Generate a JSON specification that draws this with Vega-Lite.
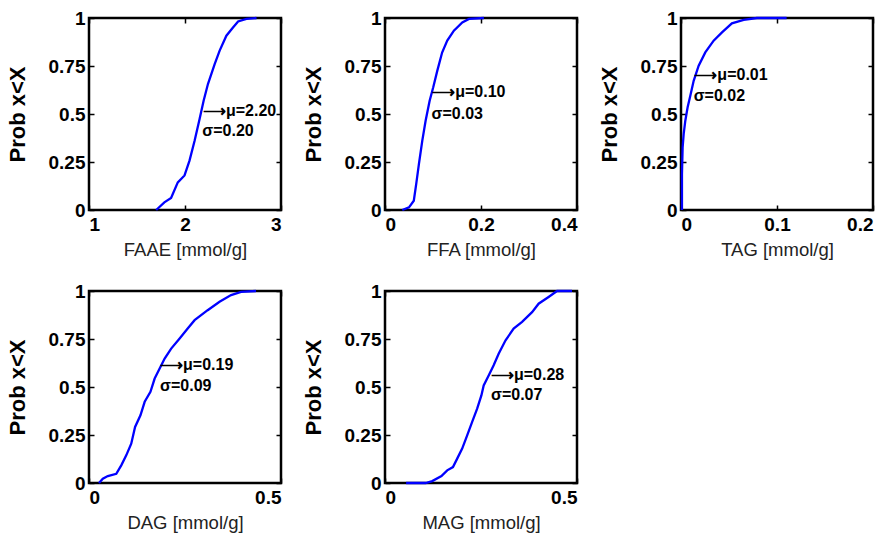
{
  "$schema": "https://vega.github.io/schema/vega-lite/v6.json",
  "autosize": {"type": "pad"},
  "padding": {"left": 4, "top": 7, "right": 0, "bottom": 0},
  "background": "white",
  "datasets": {
    "faae": [
      {"x": 1.70, "p": 0.0}, {"x": 1.785, "p": 0.04}, {"x": 1.855, "p": 0.0625}, {"x": 1.925, "p": 0.144},
      {"x": 1.995, "p": 0.18}, {"x": 2.047, "p": 0.257}, {"x": 2.10, "p": 0.361}, {"x": 2.152, "p": 0.474},
      {"x": 2.194, "p": 0.569}, {"x": 2.239, "p": 0.656}, {"x": 2.309, "p": 0.76}, {"x": 2.361, "p": 0.83},
      {"x": 2.431, "p": 0.908}, {"x": 2.50, "p": 0.951}, {"x": 2.553, "p": 0.982}, {"x": 2.64, "p": 0.995},
      {"x": 2.745, "p": 1.0}
    ],
    "ffa": [
      {"x": 0.036, "p": 0.0}, {"x": 0.05, "p": 0.014}, {"x": 0.060, "p": 0.048}, {"x": 0.065, "p": 0.135},
      {"x": 0.0707, "p": 0.24}, {"x": 0.0777, "p": 0.361}, {"x": 0.0846, "p": 0.465}, {"x": 0.093, "p": 0.569},
      {"x": 0.1005, "p": 0.639}, {"x": 0.109, "p": 0.726}, {"x": 0.119, "p": 0.82}, {"x": 0.1297, "p": 0.882},
      {"x": 0.1435, "p": 0.934}, {"x": 0.161, "p": 0.977}, {"x": 0.175, "p": 0.995}, {"x": 0.206, "p": 1.0}
    ],
    "tag": [
      {"x": 0.001, "p": 0.0}, {"x": 0.001, "p": 0.1875}, {"x": 0.0017, "p": 0.326}, {"x": 0.0028, "p": 0.396},
      {"x": 0.0045, "p": 0.465}, {"x": 0.0069, "p": 0.535}, {"x": 0.0097, "p": 0.595}, {"x": 0.0132, "p": 0.673},
      {"x": 0.0184, "p": 0.752}, {"x": 0.0253, "p": 0.821}, {"x": 0.034, "p": 0.882}, {"x": 0.0427, "p": 0.925},
      {"x": 0.053, "p": 0.972}, {"x": 0.0653, "p": 0.99}, {"x": 0.079, "p": 1.0}, {"x": 0.110, "p": 1.0}
    ],
    "dag": [
      {"x": 0.026, "p": 0.0}, {"x": 0.036, "p": 0.022}, {"x": 0.049, "p": 0.036}, {"x": 0.071, "p": 0.048},
      {"x": 0.084, "p": 0.092}, {"x": 0.097, "p": 0.144}, {"x": 0.11, "p": 0.205}, {"x": 0.12, "p": 0.292},
      {"x": 0.134, "p": 0.353}, {"x": 0.145, "p": 0.423}, {"x": 0.16, "p": 0.475}, {"x": 0.171, "p": 0.544},
      {"x": 0.184, "p": 0.596}, {"x": 0.197, "p": 0.648}, {"x": 0.214, "p": 0.70}, {"x": 0.236, "p": 0.753},
      {"x": 0.257, "p": 0.805}, {"x": 0.275, "p": 0.848}, {"x": 0.309, "p": 0.90}, {"x": 0.34, "p": 0.944},
      {"x": 0.37, "p": 0.979}, {"x": 0.396, "p": 0.995}, {"x": 0.435, "p": 1.0}
    ],
    "mag": [
      {"x": 0.055, "p": 0.0}, {"x": 0.106, "p": 0.0}, {"x": 0.123, "p": 0.01}, {"x": 0.147, "p": 0.036},
      {"x": 0.162, "p": 0.066}, {"x": 0.177, "p": 0.083}, {"x": 0.188, "p": 0.127}, {"x": 0.201, "p": 0.179},
      {"x": 0.214, "p": 0.248}, {"x": 0.227, "p": 0.318}, {"x": 0.24, "p": 0.387}, {"x": 0.251, "p": 0.456},
      {"x": 0.257, "p": 0.508}, {"x": 0.27, "p": 0.56}, {"x": 0.283, "p": 0.613}, {"x": 0.296, "p": 0.673},
      {"x": 0.314, "p": 0.743}, {"x": 0.335, "p": 0.804}, {"x": 0.357, "p": 0.839}, {"x": 0.383, "p": 0.89},
      {"x": 0.40, "p": 0.934}, {"x": 0.426, "p": 0.969}, {"x": 0.448, "p": 1.0}, {"x": 0.487, "p": 1.0}
    ],
    "ann": [
      {"panel": "FAAE", "x": 2.187, "p": 0.517, "label": "⟶μ=2.20"},
      {"panel": "FAAE", "x": 2.18, "p": 0.413, "label": "σ=0.20"},
      {"panel": "FFA", "x": 0.0984, "p": 0.6125, "label": "⟶μ=0.10"},
      {"panel": "FFA", "x": 0.097, "p": 0.50, "label": "σ=0.03"},
      {"panel": "TAG", "x": 0.0139, "p": 0.705, "label": "⟶μ=0.01"},
      {"panel": "TAG", "x": 0.0132, "p": 0.595, "label": "σ=0.02"},
      {"panel": "DAG", "x": 0.185, "p": 0.613, "label": "⟶μ=0.19"},
      {"panel": "DAG", "x": 0.185, "p": 0.506, "label": "σ=0.09"},
      {"panel": "MAG", "x": 0.276, "p": 0.564, "label": "⟶μ=0.28"},
      {"panel": "MAG", "x": 0.276, "p": 0.456, "label": "σ=0.07"}
    ]
  },
  "columns": 3,
  "spacing": {"row": 81, "column": 104},
  "bounds": "flush",
  "concat": [
    {
      "width": 192, "height": 192,
      "layer": [
        {"data": {"name": "faae"}, "mark": {"type": "line", "color": "#0000ff", "strokeWidth": 2.3},
         "encoding": {
           "x": {"field": "x", "type": "quantitative", "scale": {"domain": [1, 3], "nice": false}, "axis": {"orient": "bottom", "values": [1, 2, 3], "labelExpr": "'' + datum.value", "title": "FAAE [mmol/g]"}},
           "y": {"field": "p", "type": "quantitative", "scale": {"domain": [0, 1], "nice": false}, "axis": {"orient": "left", "values": [0, 0.25, 0.5, 0.75, 1], "labelExpr": "'' + datum.value", "title": "Prob x<X"}}}},
        {"data": {"name": "ann"}, "transform": [{"filter": "datum.panel === 'FAAE'"}],
         "mark": {"type": "text", "align": "left", "baseline": "middle", "fontSize": 16, "fontWeight": "bold", "font": "Liberation Sans", "color": "black"},
         "encoding": {
           "x": {"field": "x", "type": "quantitative", "axis": {"orient": "top", "values": [1, 2, 3], "labels": false, "title": null}},
           "y": {"field": "p", "type": "quantitative", "axis": {"orient": "right", "values": [0, 0.25, 0.5, 0.75, 1], "labels": false, "title": null}},
           "text": {"field": "label"}}}
      ],
      "resolve": {"axis": {"x": "independent", "y": "independent"}}
    },
    {
      "width": 192, "height": 192,
      "layer": [
        {"data": {"name": "ffa"}, "mark": {"type": "line", "color": "#0000ff", "strokeWidth": 2.3},
         "encoding": {
           "x": {"field": "x", "type": "quantitative", "scale": {"domain": [0, 0.4], "nice": false}, "axis": {"orient": "bottom", "values": [0, 0.2, 0.4], "labelExpr": "'' + datum.value", "title": "FFA [mmol/g]"}},
           "y": {"field": "p", "type": "quantitative", "scale": {"domain": [0, 1], "nice": false}, "axis": {"orient": "left", "values": [0, 0.25, 0.5, 0.75, 1], "labelExpr": "'' + datum.value", "title": "Prob x<X"}}}},
        {"data": {"name": "ann"}, "transform": [{"filter": "datum.panel === 'FFA'"}],
         "mark": {"type": "text", "align": "left", "baseline": "middle", "fontSize": 16, "fontWeight": "bold", "font": "Liberation Sans", "color": "black"},
         "encoding": {
           "x": {"field": "x", "type": "quantitative", "axis": {"orient": "top", "values": [0, 0.2, 0.4], "labels": false, "title": null}},
           "y": {"field": "p", "type": "quantitative", "axis": {"orient": "right", "values": [0, 0.25, 0.5, 0.75, 1], "labels": false, "title": null}},
           "text": {"field": "label"}}}
      ],
      "resolve": {"axis": {"x": "independent", "y": "independent"}}
    },
    {
      "width": 192, "height": 192,
      "layer": [
        {"data": {"name": "tag"}, "mark": {"type": "line", "color": "#0000ff", "strokeWidth": 2.3},
         "encoding": {
           "x": {"field": "x", "type": "quantitative", "scale": {"domain": [0, 0.2], "nice": false}, "axis": {"orient": "bottom", "values": [0, 0.1, 0.2], "labelExpr": "'' + datum.value", "title": "TAG [mmol/g]"}},
           "y": {"field": "p", "type": "quantitative", "scale": {"domain": [0, 1], "nice": false}, "axis": {"orient": "left", "values": [0, 0.25, 0.5, 0.75, 1], "labelExpr": "'' + datum.value", "title": "Prob x<X"}}}},
        {"data": {"name": "ann"}, "transform": [{"filter": "datum.panel === 'TAG'"}],
         "mark": {"type": "text", "align": "left", "baseline": "middle", "fontSize": 16, "fontWeight": "bold", "font": "Liberation Sans", "color": "black"},
         "encoding": {
           "x": {"field": "x", "type": "quantitative", "axis": {"orient": "top", "values": [0, 0.1, 0.2], "labels": false, "title": null}},
           "y": {"field": "p", "type": "quantitative", "axis": {"orient": "right", "values": [0, 0.25, 0.5, 0.75, 1], "labels": false, "title": null}},
           "text": {"field": "label"}}}
      ],
      "resolve": {"axis": {"x": "independent", "y": "independent"}}
    },
    {
      "width": 192, "height": 192,
      "layer": [
        {"data": {"name": "dag"}, "mark": {"type": "line", "color": "#0000ff", "strokeWidth": 2.3},
         "encoding": {
           "x": {"field": "x", "type": "quantitative", "scale": {"domain": [0, 0.5], "nice": false}, "axis": {"orient": "bottom", "values": [0, 0.5], "labelExpr": "'' + datum.value", "title": "DAG [mmol/g]"}},
           "y": {"field": "p", "type": "quantitative", "scale": {"domain": [0, 1], "nice": false}, "axis": {"orient": "left", "values": [0, 0.25, 0.5, 0.75, 1], "labelExpr": "'' + datum.value", "title": "Prob x<X"}}}},
        {"data": {"name": "ann"}, "transform": [{"filter": "datum.panel === 'DAG'"}],
         "mark": {"type": "text", "align": "left", "baseline": "middle", "fontSize": 16, "fontWeight": "bold", "font": "Liberation Sans", "color": "black"},
         "encoding": {
           "x": {"field": "x", "type": "quantitative", "axis": {"orient": "top", "values": [0, 0.5], "labels": false, "title": null}},
           "y": {"field": "p", "type": "quantitative", "axis": {"orient": "right", "values": [0, 0.25, 0.5, 0.75, 1], "labels": false, "title": null}},
           "text": {"field": "label"}}}
      ],
      "resolve": {"axis": {"x": "independent", "y": "independent"}}
    },
    {
      "width": 192, "height": 192,
      "layer": [
        {"data": {"name": "mag"}, "mark": {"type": "line", "color": "#0000ff", "strokeWidth": 2.3},
         "encoding": {
           "x": {"field": "x", "type": "quantitative", "scale": {"domain": [0, 0.5], "nice": false}, "axis": {"orient": "bottom", "values": [0, 0.5], "labelExpr": "'' + datum.value", "title": "MAG [mmol/g]"}},
           "y": {"field": "p", "type": "quantitative", "scale": {"domain": [0, 1], "nice": false}, "axis": {"orient": "left", "values": [0, 0.25, 0.5, 0.75, 1], "labelExpr": "'' + datum.value", "title": "Prob x<X"}}}},
        {"data": {"name": "ann"}, "transform": [{"filter": "datum.panel === 'MAG'"}],
         "mark": {"type": "text", "align": "left", "baseline": "middle", "fontSize": 16, "fontWeight": "bold", "font": "Liberation Sans", "color": "black"},
         "encoding": {
           "x": {"field": "x", "type": "quantitative", "axis": {"orient": "top", "values": [0, 0.5], "labels": false, "title": null}},
           "y": {"field": "p", "type": "quantitative", "axis": {"orient": "right", "values": [0, 0.25, 0.5, 0.75, 1], "labels": false, "title": null}},
           "text": {"field": "label"}}}
      ],
      "resolve": {"axis": {"x": "independent", "y": "independent"}}
    }
  ],
  "config": {
    "view": {"stroke": "black", "strokeWidth": 2.5},
    "axis": {
      "domain": false, "grid": false,
      "ticks": true, "tickSize": -5, "tickColor": "black", "tickWidth": 1.5,
      "labelFont": "Liberation Sans", "labelFontSize": 19, "labelFontWeight": "bold", "labelColor": "black",
      "titleFont": "Liberation Sans", "titleColor": "black"
    },
    "axisX": {"labelPadding": 10, "titleFontSize": 18.5, "titleFontWeight": "normal", "titleColor": "#222", "titlePadding": 6},
    "axisY": {"labelPadding": 9, "titleFontSize": 22, "titleFontWeight": "bold", "titlePadding": 19}
  }
}
